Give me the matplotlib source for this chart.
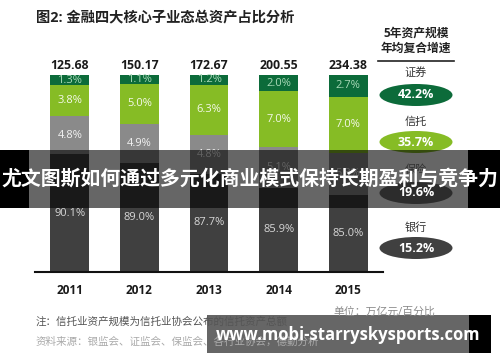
import matplotlib.pyplot as plt
from matplotlib.patches import Rectangle, Ellipse

plt.rcParams['font.family'] = ['Open Sans', 'Noto Sans CJK SC', 'DejaVu Sans']

years = ['2011', '2012', '2013', '2014', '2015']
totals = ['125.68', '150.17', '172.67', '200.55', '234.38']
# share of total assets, %
bank = [90.1, 89.0, 87.7, 85.9, 85.0]
insurance = [4.8, 4.9, 4.8, 5.1, 5.3]
trust = [3.8, 5.0, 6.3, 7.0, 7.0]
securities = [1.3, 1.1, 1.2, 2.0, 2.7]

# 5-year CAGR panel
cagr_names = ['证券', '信托', '保险', '银行']
cagr_values = ['42.2%', '35.7%', '19.6%', '15.2%']

c_bank = '#404040'
c_ins = '#8a8a8a'
c_trust = '#86bc25'
c_sec = '#0c6b3a'

fig = plt.figure(figsize=(5, 3.62), dpi=100)
fig.patch.set_facecolor('white')
ax = fig.add_axes([35 / 500, 90 / 362, 348 / 500, 197 / 362])

ymin = 75.4
x = range(len(years))
series = [(bank, c_bank, '#d8d8d8'), (insurance, c_ins, '#f2f2f2'),
          (trust, c_trust, '#f4f9ea'), (securities, c_sec, '#a9d9b8')]
bottom = [0.0] * len(years)
for vals, col, tcol in series:
    ax.bar(x, vals, bottom=bottom, width=0.56, color=col, edgecolor='none')
    for i, v in enumerate(vals):
        lo = max(bottom[i], ymin)
        hi = bottom[i] + v
        ax.text(i, (lo + hi) / 2, f'{v:.1f}%', ha='center', va='center',
                fontsize=8, color=tcol)
    bottom = [b + v for b, v in zip(bottom, vals)]

for i, t in enumerate(totals):
    ax.annotate(t, xy=(i, 100), xytext=(0, 7), textcoords='offset points',
                ha='center', va='center', fontsize=8.8, fontweight='bold', color='#1a1a1a')

ax.set_xlim(-0.5, 4.5)
ax.set_ylim(ymin, 100)
ax.set_xticks(list(x))
ax.set_xticklabels(years, fontsize=8.5, fontweight='bold', color='#1a1a1a')
ax.tick_params(axis='x', length=0, pad=9)
ax.set_yticks([])
for s in ['top', 'right', 'left']:
    ax.spines[s].set_visible(False)
ax.spines['bottom'].set_linewidth(1.5)
ax.spines['bottom'].set_color('#111111')

# title
fig.text(36 / 500, 1 - 18 / 362, '图2: 金融四大核心子业态总资产占比分析',
         fontsize=10.3, fontweight='bold', color='#222222', va='center', ha='left')

# CAGR panel
fig.text(416 / 500, 1 - 33 / 362, '5年资产规模', fontsize=8.5, fontweight='bold',
         ha='center', va='center', color='#222222')
fig.text(416 / 500, 1 - 48 / 362, '年均复合增速', fontsize=8.5, fontweight='bold',
         ha='center', va='center', color='#222222')
fig.add_artist(plt.Line2D([378 / 500, 454 / 500], [1 - 61 / 362] * 2,
                          color='#222222', lw=1.2))
ell_cols = [c_sec, c_trust, '#6e6e6e', c_bank]
name_y = [73, 122, 170, 228]
ell_y = [95, 142, 193, 248]
for name, val, col, ny, ey in zip(cagr_names, cagr_values, ell_cols, name_y, ell_y):
    fig.text(416 / 500, 1 - ny / 362, name, fontsize=8, ha='center', va='center',
             color='#333333')
    fig.add_artist(Ellipse((416 / 500, 1 - ey / 362), 73 / 500, 22 / 362,
                           transform=fig.transFigure, color=col, lw=0))
    fig.text(416 / 500, 1 - ey / 362, val, fontsize=9, fontweight='bold',
             ha='center', va='center', color='white')

# notes
fig.text(333 / 500, 1 - 312 / 362, '单位：万亿元/百分比', fontsize=7.8,
         ha='left', va='center', color='#8a8a8a')
fig.text(36 / 500, 1 - 322 / 362, '注：信托业资产规模为信托业协会公布的信托资产总额',
         fontsize=7.6, ha='left', va='center', color='#555555')
fig.text(36 / 500, 1 - 342 / 362, '资料来源：银监会、证监会、保监会、各行业协会，德勤分析',
         fontsize=7.6, ha='left', va='center', color='#aaaaaa')

# banner overlay
fig.add_artist(Rectangle((0, 1 - 208 / 362), 29 / 500, 58 / 362,
                         transform=fig.transFigure, color='black', lw=0))
fig.add_artist(Rectangle((29 / 500, 1 - 208 / 362), 439 / 500, 58 / 362,
                         transform=fig.transFigure, color='black', alpha=0.6, lw=0))
fig.add_artist(Rectangle((468 / 500, 1 - 208 / 362), 32 / 500, 58 / 362,
                         transform=fig.transFigure, color='black', lw=0))
fig.text(0.5, 1 - 178 / 362, '尤文图斯如何通过多元化商业模式保持长期盈利与竞争力',
         fontsize=14.3, fontweight='bold', color='white', ha='center', va='center',
         family=['Noto Sans CJK SC', 'DejaVu Sans'])

# watermark
fig.add_artist(Rectangle((207 / 500, 1 - 353 / 362), 262 / 500, 38 / 362,
                         transform=fig.transFigure, color='black', alpha=0.6, lw=0))
fig.add_artist(Rectangle((469 / 500, 1 - 353 / 362), 22 / 500, 38 / 362,
                         transform=fig.transFigure, color='black', lw=0))
fig.text(348 / 500, 1 - 335 / 362, 'www.mobi-starryskysports.com', fontsize=12,
         fontweight='bold', color='white', ha='center', va='center')

fig.savefig('out.png', dpi=100)
